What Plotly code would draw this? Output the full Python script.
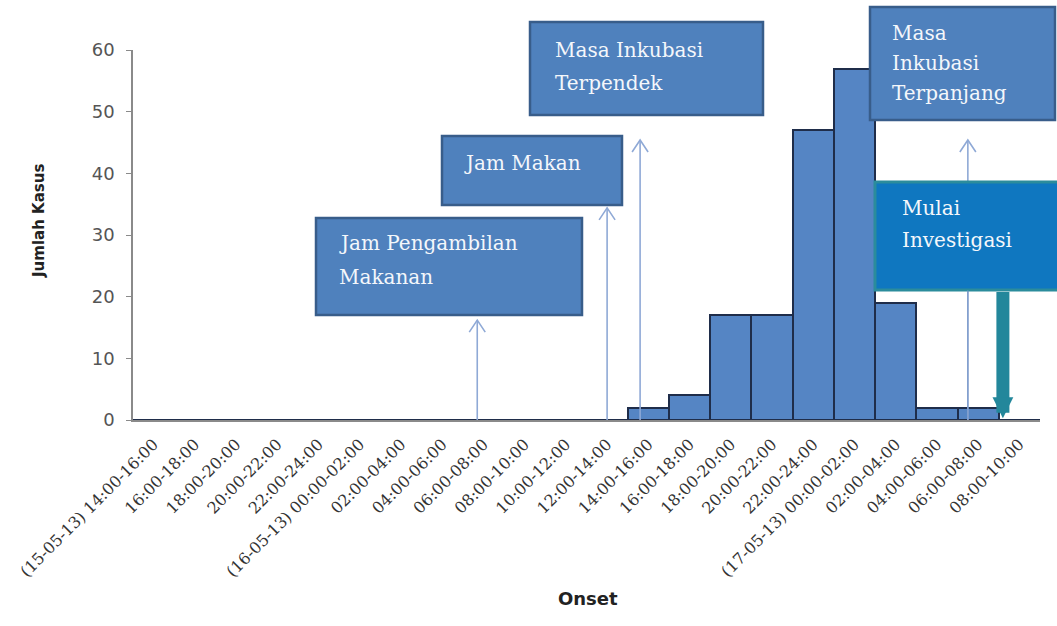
import plotly.graph_objects as go

# Onset time windows (2-hour bins) and number of cases
categories = [
    "(15-05-13) 14:00-16:00", "16:00-18:00", "18:00-20:00", "20:00-22:00",
    "22:00-24:00", "(16-05-13) 00:00-02:00", "02:00-04:00", "04:00-06:00",
    "06:00-08:00", "08:00-10:00", "10:00-12:00", "12:00-14:00",
    "14:00-16:00", "16:00-18:00", "18:00-20:00", "20:00-22:00",
    "22:00-24:00", "(17-05-13) 00:00-02:00", "02:00-04:00", "04:00-06:00",
    "06:00-08:00", "08:00-10:00",
]
cases = [0, 0, 0, 0, 0, 0, 0, 0, 0, 0, 0, 0, 2, 4, 17, 17, 47, 57, 19, 2, 2, 0]

# Event markers: label lines, position on the category axis, arrow tip height
event_labels = [
    ["Jam Pengambilan", "Makanan"],
    ["Jam Makan"],
    ["Masa Inkubasi", "Terpendek"],
    ["Masa", "Inkubasi", "Terpanjang"],
]
event_pos = [7.85, 11.0, 11.8, 19.75]
event_tip = [16.2, 34.4, 45.4, 45.4]
investigation_label = ["Mulai", "Investigasi"]
investigation_pos = 20.6

W, H = 1057, 626
L, R, T, B = 133, 17, 50, 206
PW, PH = W - L - R, H - T - B


def px(x):
    return (x - L) / PW


def py(y):
    return (H - B - y) / PH


fig = go.Figure()
fig.add_trace(go.Bar(
    x=list(range(len(categories))), y=cases,
    marker=dict(color="#5585C4", line=dict(color="#1F2D4A", width=2)),
    width=1.0,
))

shapes = []
annotations = []

# Thin event arrows: shaft from the axis, open chevron at the tip
arrow_col = "#8FA9D6"
for xpos, ytip in zip(event_pos, event_tip):
    shapes.append(dict(type="line", xref="x", yref="y", x0=xpos, x1=xpos,
                       y0=0, y1=ytip, line=dict(color=arrow_col, width=1.6),
                       layer="above"))
    shapes.append(dict(type="path", xref="x", yref="y",
                       xsizemode="pixel", ysizemode="pixel",
                       xanchor=xpos, yanchor=ytip,
                       path="M-8,-12L0,0L8,-12",
                       line=dict(color=arrow_col, width=1.6), layer="above"))

box_fill = "#4F81BD"
box_line = "#385D8A"
text_font = dict(family="DejaVu Serif", size=20, color="#F4F7FB")
# box (x0, y0, x1, y1) in pixels, text left edge and line centres
boxes = [
    ((316, 218, 582, 315), 337, [243, 277]),
    ((442, 136, 622, 205), 462, [163]),
    ((530, 22, 763, 115), 553, [50, 83]),
    ((870, 7, 1055, 120), 890, [33, 63, 93]),
]
for lines, ((x0, y0, x1, y1), tx, tys) in zip(event_labels, boxes):
    shapes.append(dict(type="rect", xref="paper", yref="paper",
                       x0=px(x0), x1=px(x1), y0=py(y1), y1=py(y0),
                       fillcolor=box_fill, line=dict(color=box_line, width=2.5),
                       layer="above"))
    for line, ty in zip(lines, tys):
        annotations.append(dict(xref="paper", yref="paper", x=px(tx), y=py(ty),
                                xanchor="left", yanchor="middle", text=line,
                                showarrow=False, font=text_font))

# Investigation start box
shapes.append(dict(type="rect", xref="paper", yref="paper",
                   x0=px(875), x1=px(1062), y0=py(290), y1=py(182),
                   fillcolor="#0F77C0", line=dict(color="#2B8C9C", width=3),
                   layer="above"))
for line, ty in zip(investigation_label, [208, 240]):
    annotations.append(dict(xref="paper", yref="paper", x=px(900), y=py(ty),
                            xanchor="left", yanchor="middle", text=line,
                            showarrow=False, font=text_font))

# The longest-incubation arrow runs across the investigation box
shapes.append(dict(type="line", xref="x", yref="y", x0=event_pos[3], x1=event_pos[3],
                   y0=0, y1=21.0, line=dict(color="#7E9CCB", width=1.2),
                   layer="above"))

# Thick arrow down from the investigation box
annotations.append(dict(x=investigation_pos, y=0.3, xref="x", yref="y",
                        ax=investigation_pos, ay=21.0, axref="x", ayref="y",
                        text="", showarrow=True, arrowhead=2,
                        arrowsize=0.32, arrowwidth=13,
                        arrowcolor="#23879B", standoff=0))

# Axis titles
annotations.append(dict(xref="paper", yref="paper", x=px(28), y=py(221),
                        text="<b>Jumlah Kasus</b>", textangle=-90, showarrow=False,
                        font=dict(family="DejaVu Sans", size=15, color="#222")))
annotations.append(dict(xref="paper", yref="paper", x=px(588), y=py(611),
                        text="<b>Onset</b>", showarrow=False,
                        font=dict(family="DejaVu Sans", size=18, color="#222")))

fig.update_layout(
    width=W, height=H,
    margin=dict(l=L, r=R, t=T, b=B),
    paper_bgcolor="white", plot_bgcolor="white",
    showlegend=False, bargap=0,
    shapes=shapes, annotations=annotations,
)
fig.update_xaxes(
    tickmode="array", tickvals=list(range(len(categories))), ticktext=categories,
    range=[-0.5, len(categories) - 0.5], tickangle=-45, automargin=False,
    showline=True, linecolor="#8A8A8A", linewidth=1.5,
    showgrid=False, zeroline=False, ticks="", ticklabelstandoff=7,
    tickfont=dict(family="DejaVu Serif", size=16, color="#333"),
)
fig.update_yaxes(
    range=[0, 60], tickvals=[0, 10, 20, 30, 40, 50, 60], automargin=False,
    showline=True, linecolor="#8A8A8A", linewidth=1.5,
    ticks="outside", ticklen=5, tickcolor="#8A8A8A",
    showgrid=False, zeroline=False, ticklabelstandoff=8,
    tickfont=dict(family="DejaVu Sans", size=18, color="#555"),
)

fig.write_html("out.html")
